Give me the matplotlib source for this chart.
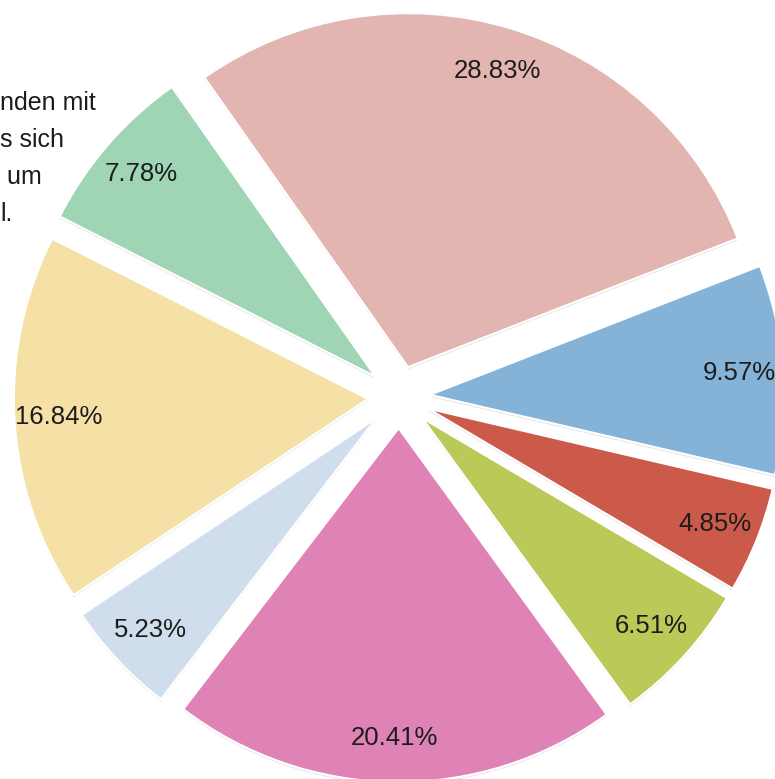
import matplotlib.pyplot as plt
import matplotlib.patheffects as pe

# slice values, clockwise starting from the top (rose) slice
values = [28.83, 9.57, 4.85, 6.51, 20.41, 5.23, 16.84, 7.78]
labels = ['28.83%', '9.57%', '4.85%', '6.51%', '20.41%', '5.23%', '16.84%', '7.78%']
colors = ['#E3B5B1', '#84B3D7', '#CB5A4A', '#BAC957',
          '#DF82B5', '#D0DDED', '#F5E1A6', '#9FD4B5']

# fragments of a text block that is cut off by the left image edge
side_text = ['nden mit', 's sich', ' um', 'l.']

plt.rcParams['font.family'] = ['Liberation Sans', 'DejaVu Sans']

W, H = 775, 779
fig = plt.figure(figsize=(W / 100, H / 100), dpi=100)
ax = fig.add_axes([0, 0, 1, 1])

# pie centre and radius in pixels
cx, cy, r = 399, 397, 354

wedges, texts = ax.pie(
    values, labels=labels, colors=colors, startangle=125.1,
    counterclock=False, explode=[0.088] * len(values),
    labeldistance=0.875,
    wedgeprops=dict(edgecolor='white', linewidth=1.5),
    textprops=dict(fontsize=18.5, color='#1c1c1c'))

for w in wedges:
    w.set_path_effects([pe.SimplePatchShadow(offset=(0, -1.5), alpha=0.18,
                                             shadow_rgbFace='#777777'),
                        pe.Normal()])
for t in texts:
    t.set_ha('center')
    t.set_va('center')

ax.set_aspect('auto')
ax.set_xlim(-cx / r, (W - cx) / r)
ax.set_ylim(-(H - cy) / r, cy / r)
ax.axis('off')

# side text lines (left edge)
for i, line in enumerate(side_text):
    y = 103 + i * 37
    fig.text(0, 1 - y / H, line, fontsize=18, color='#1c1c1c',
             ha='left', va='center')

fig.savefig('out.png', dpi=100)
